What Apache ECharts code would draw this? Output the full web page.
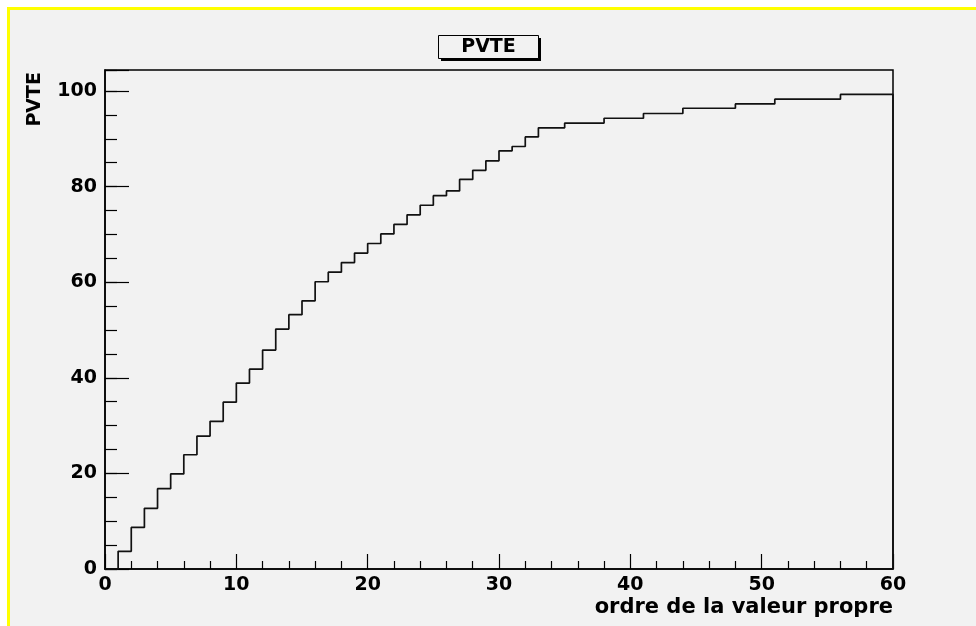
<!DOCTYPE html>
<html>
<head>
<meta charset="utf-8">
<script src="https://cdn.jsdelivr.net/npm/echarts@6/dist/echarts.min.js"></script>
<style>
html,body{margin:0;padding:0;background:#fff;}
#chart{width:976px;height:626px;}
</style>
</head>
<body>
<div id="chart"></div>
<script>
// Bin low edges (histogram bins of width 1) and PVTE values
const binEdges = [0,1,2,3,4,5,6,7,8,9,10,11,12,13,14,15,16,17,18,19,20,21,22,23,24,25,26,27,28,29,
                  30,31,32,33,34,35,36,37,38,39,40,41,42,43,44,45,46,47,48,49,50,51,52,53,54,55,56,57,58,59];
const pvte = [0,3.7,8.7,12.7,16.8,19.9,23.9,27.8,30.9,34.9,38.9,41.8,45.8,50.2,53.2,56.1,60.1,62.1,64.1,66.1,
              68.1,70.1,72.1,74.1,76.1,78.1,79.1,81.5,83.4,85.4,87.5,88.4,90.4,92.3,92.3,93.3,93.3,93.3,94.3,94.3,
              94.3,95.3,95.3,95.3,96.4,96.4,96.4,96.4,97.3,97.3,97.3,98.3,98.3,98.3,98.3,98.3,99.3,99.3,99.3,99.3];
const xMax = 60;
const yMax = 104.4;
const xTicks = [0,10,20,30,40,50,60];
const yTicks = [0,20,40,60,80,100];
const titleText = 'PVTE';
const yTitle = 'PVTE';
const xTitle = 'ordre de la valeur propre';

const FONT = 'DejaVu Sans';
const points = binEdges.map((e, i) => [e, pvte[i]]);
points.push([xMax, pvte[pvte.length - 1]]);
points.push([xMax, 0]);

const chart = echarts.init(document.getElementById('chart'), null, {renderer: 'canvas'});
chart.setOption({
  animation: false,
  backgroundColor: '#f2f2f2',
  grid: {
    left: 105, right: 83, top: 70, bottom: 57,
    show: true, borderColor: '#000', borderWidth: 1.5, backgroundColor: 'transparent'
  },
  xAxis: {
    type: 'value', min: 0, max: xMax, interval: 10,
    axisLine: {show: true, lineStyle: {color: '#000', width: 1.5}},
    axisTick: {show: true, inside: true, length: 15, lineStyle: {color: '#000', width: 1.2}},
    minorTick: {show: true, splitNumber: 5, length: 8, lineStyle: {color: '#000', width: 1.2}},
    splitLine: {show: false},
    axisLabel: {
      margin: 7, color: '#000', fontFamily: FONT, fontWeight: 'bold', fontSize: 19,
      formatter: v => xTicks.includes(v) ? String(v) : ''
    }
  },
  yAxis: [{
    type: 'value', min: 0, max: yMax, interval: 20,
    axisLine: {show: true, lineStyle: {color: '#000', width: 1.5}},
    axisTick: {show: true, inside: true, length: 24, lineStyle: {color: '#000', width: 1.2}},
    splitLine: {show: false},
    axisLabel: {
      margin: 8, color: '#000', fontFamily: FONT, fontWeight: 'bold', fontSize: 19,
      formatter: v => yTicks.includes(v) ? String(v) : ''
    }
  }, {
    type: 'value', min: 0, max: yMax, interval: 5, position: 'left', offset: 0,
    axisLine: {show: false},
    axisTick: {show: true, inside: true, length: 12, lineStyle: {color: '#000', width: 1.2}},
    splitLine: {show: false},
    axisLabel: {show: false}
  }],
  graphic: [
    {type: 'rect', shape: {x: 0, y: 0, width: 976, height: 7}, style: {fill: '#fff'}, silent: true},
    {type: 'rect', shape: {x: 0, y: 0, width: 7, height: 626}, style: {fill: '#fff'}, silent: true},
    {type: 'rect', shape: {x: 7, y: 7, width: 969, height: 3}, style: {fill: '#ffff00'}, silent: true},
    {type: 'rect', shape: {x: 7, y: 7, width: 3, height: 619}, style: {fill: '#ffff00'}, silent: true},
    {type: 'rect', shape: {x: 441, y: 38, width: 100, height: 23}, style: {fill: '#000'}, silent: true},
    {type: 'rect', shape: {x: 438.5, y: 35.5, width: 100, height: 23}, style: {fill: '#f2f2f2', stroke: '#000', lineWidth: 1}, silent: true},
    {type: 'text', x: 488.5, y: 47.5,
     style: {text: titleText, fill: '#000', font: 'bold 19px "DejaVu Sans"', align: 'center', verticalAlign: 'middle'}},
    {type: 'text', x: 45, y: 72, rotation: Math.PI / 2,
     style: {text: yTitle, fill: '#000', font: 'bold 19px "DejaVu Sans"', align: 'right', verticalAlign: 'bottom'}},
    {type: 'text', x: 893, y: 608,
     style: {text: xTitle, fill: '#000', font: 'bold 21px "DejaVu Sans"', align: 'right', verticalAlign: 'middle'}}
  ],
  series: [{
    type: 'line', xAxisIndex: 0, yAxisIndex: 0,
    data: points, step: 'end', showSymbol: false, clip: false,
    lineStyle: {color: '#111', width: 1.7}
  }]
});
</script>
</body>
</html>
